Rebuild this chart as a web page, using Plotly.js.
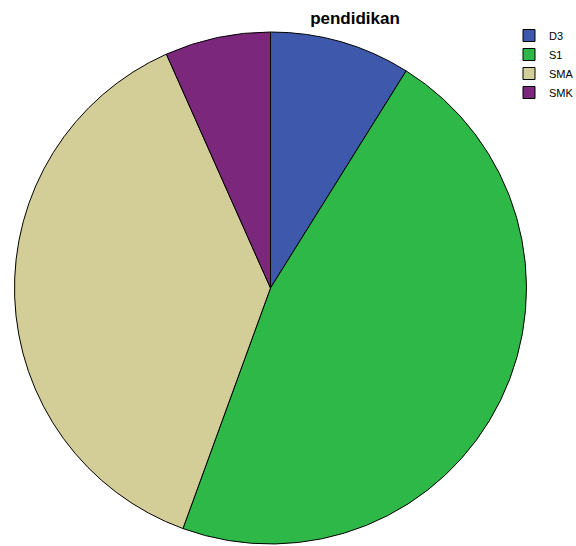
<!DOCTYPE html>
<html><head><meta charset="utf-8">
<script src="https://cdn.plot.ly/plotly-3.0.1.min.js"></script>
<style>html,body{margin:0;padding:0;background:#fff}</style>
</head><body><div id="chart" style="width:576px;height:546px"></div>
<script>
const categories = ["D3", "S1", "SMA", "SMK"];
const counts = [4, 21, 17, 3];
const colors = ["#3e58ac", "#2eb848", "#d3ce97", "#7b277c"];

const W = 576, H = 546;
Plotly.newPlot("chart", [{
  type: "pie",
  labels: categories,
  values: counts,
  sort: false,
  direction: "clockwise",
  rotation: 0,
  textinfo: "none",
  hoverinfo: "label+value+percent",
  marker: {colors: colors, line: {color: "#000", width: 1}},
  domain: {x: [14.5/W, 526.5/W], y: [1 - 544/H, 1 - 32/H]}
}], {
  width: W, height: H,
  margin: {l: 0, r: 0, t: 0, b: 0, autoexpand: false},
  paper_bgcolor: "#fff",
  title: {text: "<b>pendidikan</b>", x: 355/W, xanchor: "center", y: 1 - 18/H, yanchor: "middle",
          font: {family: "Liberation Sans, Arial, sans-serif", size: 17, color: "#000"}},
  showlegend: true,
  legend: {x: 509/W, xanchor: "left", y: 1 - 21/H, yanchor: "top",
           font: {family: "Liberation Sans, Arial, sans-serif", size: 11, color: "#000"},
           tracegroupgap: 0, itemwidth: 30, bgcolor: "rgba(0,0,0,0)"}
}, {displayModeBar: false, staticPlot: true});
</script></body></html>
